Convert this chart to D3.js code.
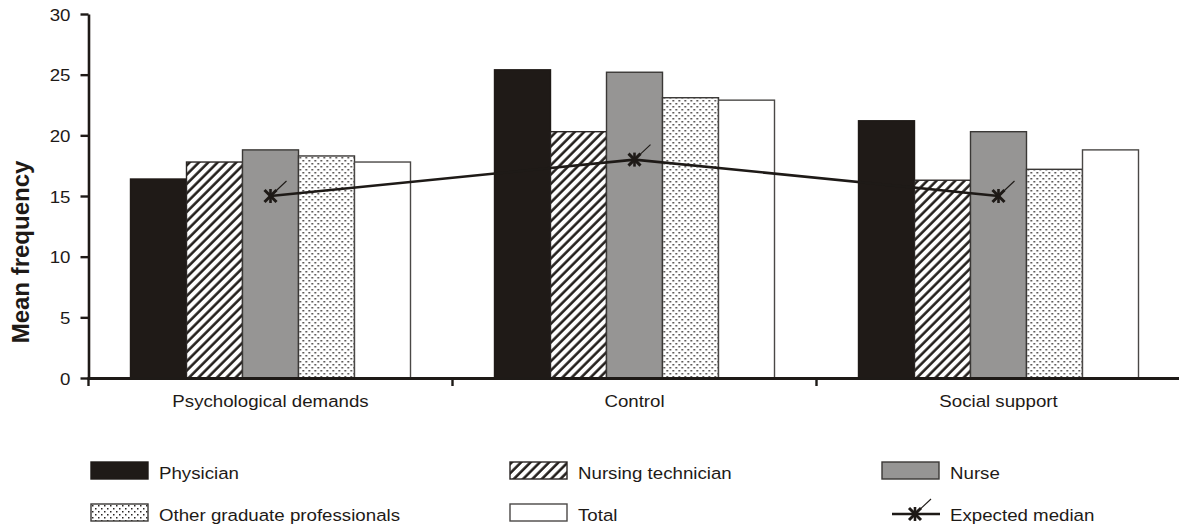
<!DOCTYPE html>
<html>
<head>
<meta charset="utf-8">
<script src="https://cdn.jsdelivr.net/npm/d3@7"></script>
<style>
  body { margin: 0; background: #fff; }
  text { font-family: "Liberation Sans", Arial, sans-serif; fill: #1e1a17; }
</style>
</head>
<body>
<div id="chart"></div>
<script>
// data
const categories = ["Psychological demands", "Control", "Social support"];
const series = ["Physician", "Nursing technician", "Nurse", "Other graduate professionals", "Total"];
const physician = [16.4, 25.4, 21.2];
const nursingTech = [17.8, 20.3, 16.3];
const nurse = [18.8, 25.2, 20.3];
const otherGrad = [18.3, 23.1, 17.2];
const total = [17.8, 22.9, 18.8];
const expectedMedian = [15, 18, 15];
const yTicks = [0, 5, 10, 15, 20, 25, 30];

const seriesValues = [physician, nursingTech, nurse, otherGrad, total];
const width = 1179, height = 527;
const ink = "#1e1a17";
const sx = 1.1; // the source picture is a bit wider than tall, stretch text the same way

const svg = d3.select("#chart").append("svg")
    .attr("width", width)
    .attr("height", height);

// fills
const defs = svg.append("defs");
const hatch = defs.append("pattern")
    .attr("id", "hatch")
    .attr("patternUnits", "userSpaceOnUse")
    .attr("width", 6.6).attr("height", 6.6)
    .attr("patternTransform", "rotate(45)");
hatch.append("rect").attr("width", 6.6).attr("height", 6.6).attr("fill", "#fff");
hatch.append("line")
    .attr("x1", 1.5).attr("y1", 0).attr("x2", 1.5).attr("y2", 6.6)
    .attr("stroke", ink).attr("stroke-width", 2.5);

const dots = defs.append("pattern")
    .attr("id", "dots")
    .attr("patternUnits", "userSpaceOnUse")
    .attr("width", 6).attr("height", 6);
dots.append("rect").attr("width", 6).attr("height", 6).attr("fill", "#fff");
dots.append("rect").attr("x", 1).attr("y", 1).attr("width", 1.5).attr("height", 1.5).attr("fill", "#2a2624");
dots.append("rect").attr("x", 4).attr("y", 4).attr("width", 1.5).attr("height", 1.5).attr("fill", "#2a2624");

const fills = ["#1f1a17", "url(#hatch)", "#969594", "url(#dots)", "#ffffff"];
const strokes = ["#1f1a17", "#2a2624", "#3a3836", "#3a3836", "#4a4846"];

// scales
const y = d3.scaleLinear().domain([0, 30]).range([378, 14]);
const x = d3.scaleBand().domain(categories).range([88.5, 1180.5]).padding(0);
const xInner = d3.scaleBand().domain(series).range([42, 322]).padding(0);

// bars
const groups = svg.append("g").selectAll("g")
    .data(categories)
    .join("g")
    .attr("transform", d => `translate(${x(d)},0)`);

groups.selectAll("rect")
    .data((c, ci) => series.map((s, si) => ({ s, si, v: seriesValues[si][ci] })))
    .join("rect")
    .attr("x", d => xInner(d.s))
    .attr("y", d => y(d.v))
    .attr("width", xInner.bandwidth())
    .attr("height", d => y(0) - y(d.v))
    .attr("fill", d => fills[d.si])
    .attr("stroke", d => strokes[d.si])
    .attr("stroke-width", 1.4);

// y axis
const yAxis = svg.append("g")
    .attr("transform", "translate(88.5,0)")
    .call(d3.axisLeft(y).tickValues(yTicks).tickSize(8).tickSizeOuter(0).tickPadding(10));
yAxis.select(".domain").attr("stroke", ink).attr("stroke-width", 2.6);
yAxis.selectAll(".tick line").attr("stroke", ink).attr("stroke-width", 2.4);
yAxis.selectAll(".tick text")
    .attr("font-size", 17)
    .attr("font-family", "Liberation Sans, Arial, sans-serif")
    .attr("fill", ink)
    .attr("dy", "0.36em")
    .attr("transform", function() {
        const tx = +d3.select(this).attr("x");
        return `translate(${tx * (1 - sx)},0) scale(${sx},1)`;
    });

// x axis (ticks sit between categories)
const xAxis = svg.append("g");
xAxis.append("line")
    .attr("x1", x.range()[0] - 1).attr("x2", width)
    .attr("y1", y(0) + 0.5).attr("y2", y(0) + 0.5)
    .attr("stroke", ink).attr("stroke-width", 3);
xAxis.selectAll(".xt")
    .data(categories.map(c => x(c)).concat([x.range()[1]]))
    .join("line")
    .attr("x1", d => d).attr("x2", d => d)
    .attr("y1", y(0)).attr("y2", y(0) + 8)
    .attr("stroke", ink).attr("stroke-width", 2.4);
xAxis.selectAll(".xl")
    .data(categories)
    .join("text")
    .attr("transform", d => `translate(${x(d) + x.bandwidth() / 2},407) scale(${sx},1)`)
    .attr("text-anchor", "middle")
    .attr("font-size", 17)
    .text(d => d);

// y title
svg.append("text")
    .attr("transform", "translate(28.5,252) rotate(-90)")
    .attr("text-anchor", "middle")
    .attr("font-size", 24)
    .attr("font-weight", "bold")
    .text("Mean frequency");

// expected median line + markers
function drawMarker(g) {
    g.append("line").attr("x1", 0).attr("y1", 0).attr("x2", 16).attr("y2", -15)
        .attr("stroke", ink).attr("stroke-width", 1.1);
    g.append("line").attr("x1", -6).attr("y1", -6).attr("x2", 6).attr("y2", 6)
        .attr("stroke", ink).attr("stroke-width", 3);
    g.append("line").attr("x1", -6).attr("y1", 6).attr("x2", 6).attr("y2", -6)
        .attr("stroke", ink).attr("stroke-width", 3);
    g.append("line").attr("x1", 0).attr("y1", -7).attr("x2", 0).attr("y2", 7)
        .attr("stroke", ink).attr("stroke-width", 2.6);
}

const medianPts = categories.map((c, i) => [x(c) + x.bandwidth() / 2, y(expectedMedian[i])]);
svg.append("path")
    .attr("d", d3.line()(medianPts))
    .attr("fill", "none")
    .attr("stroke", ink)
    .attr("stroke-width", 2.6);
svg.append("g").selectAll("g")
    .data(medianPts)
    .join("g")
    .attr("transform", d => `translate(${d[0]},${d[1]})`)
    .each(function() { drawMarker(d3.select(this)); });

// legend
const legendCols = [91, 510, 882];
const legendRows = [462, 504];
const legendItems = series.concat(["Expected median"]);
const legend = svg.append("g").selectAll("g")
    .data(legendItems)
    .join("g")
    .attr("transform", (d, i) => `translate(${legendCols[i % 3]},${legendRows[Math.floor(i / 3)]})`);

legend.each(function(d, i) {
    const g = d3.select(this);
    if (i < series.length) {
        g.append("rect")
            .attr("width", 57).attr("height", 17)
            .attr("fill", fills[i])
            .attr("stroke", strokes[i])
            .attr("stroke-width", 1.4);
    } else {
        g.append("line").attr("x1", 10).attr("x2", 58).attr("y1", 10).attr("y2", 10)
            .attr("stroke", ink).attr("stroke-width", 2.6);
        const m = g.append("g").attr("transform", "translate(33,10)");
        drawMarker(m);
    }
    g.append("text")
        .attr("transform", `translate(68,17) scale(${sx},1)`)
        .attr("font-size", 17)
        .text(d);
});
</script>
</body>
</html>
